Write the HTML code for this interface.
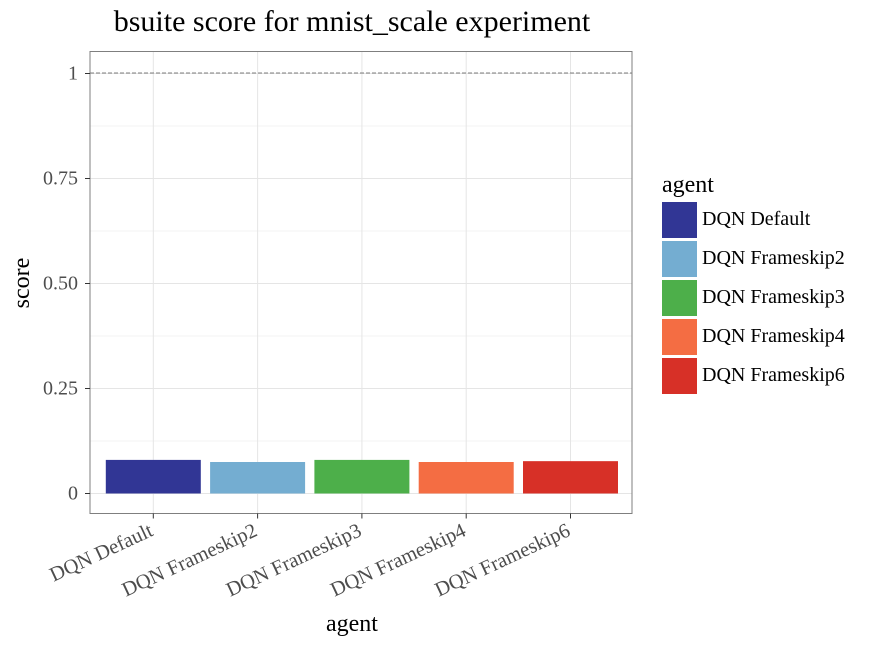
<!DOCTYPE html>
<html><head><meta charset="utf-8"><style>
body{margin:0;background:#fff;font-family:"Liberation Serif",serif;}
</style></head><body>
<svg width="873" height="646" id="chart" xmlns="http://www.w3.org/2000/svg" font-family="Liberation Serif, serif">
<text x="352" y="31" font-size="30" text-anchor="middle" fill="#000">bsuite score for mnist_scale experiment</text>
<rect x="90" y="51.5" width="542" height="462" fill="#fff" stroke="#7f7f7f" stroke-width="1"/>
<g id="grid"></g>
<g id="bars"></g>
<line x1="90" x2="632" y1="73" y2="73" stroke="#555" stroke-dasharray="4,2" stroke-width="0.8"/>
<rect x="90" y="51.5" width="542" height="462" fill="none" stroke="#7f7f7f" stroke-width="1"/>
<g id="axes"></g>
<text x="352" y="631" font-size="24" text-anchor="middle">agent</text>
<text transform="translate(29,283) rotate(-90)" font-size="24" text-anchor="middle">score</text>
<text x="662" y="192" font-size="24">agent</text>
<g id="legend"></g>
</svg>
<script>
const categories=["DQN Default","DQN Frameskip2","DQN Frameskip3","DQN Frameskip4","DQN Frameskip6"];
const scores=[0.080,0.075,0.080,0.075,0.077];
const colors=["#313695","#74add1","#4daf4a","#f46d43","#d73027"];
const yTicks=[0,0.25,0.5,0.75,1];
const yTickLabels=["0","0.25","0.50","0.75","1"];
const NS="http://www.w3.org/2000/svg";
const y=v=>493.5-420*v;
const step=104.3, x=i=>153.3+i*step, bw=95;
function mk(t,a,p){const e=document.createElementNS(NS,t);for(const k in a)e.setAttribute(k,a[k]);p.appendChild(e);return e;}
const grid=document.getElementById('grid'),bars=document.getElementById('bars'),axes=document.getElementById('axes'),leg=document.getElementById('legend');
for(let i=0;i<yTicks.length;i++){
 const g=mk('line',{x1:90,x2:632,y1:y(yTicks[i]),y2:y(yTicks[i]),stroke:'#e5e5e5','stroke-width':1},grid);
 
 
 if(i<yTicks.length-1){const m=mk('line',{x1:90,x2:632,y1:y(yTicks[i]+0.125),y2:y(yTicks[i]+0.125),stroke:'#f3f3f3','stroke-width':1},grid);
 
 }
 const t=mk('line',{x1:85,x2:90,y1:y(yTicks[i]),y2:y(yTicks[i]),stroke:'#333'},axes);
 
 
 const l=mk('text',{x:78,y:y(yTicks[i])+6,'font-size':20,'text-anchor':'end',fill:'#4d4d4d'},axes);
 l.textContent=yTickLabels[i];
 
 
}
categories.forEach((c,i)=>{
 const g=mk('line',{x1:x(i),x2:x(i),y1:51.5,y2:513.5,stroke:'#e5e5e5'},grid);
 
 
 const b=mk('rect',{x:x(i)-bw/2,y:y(scores[i]),width:bw,height:y(0)-y(scores[i]),fill:colors[i]},bars);
 
 
 const t=mk('line',{x1:x(i),x2:x(i),y1:513.5,y2:518.5,stroke:'#333'},axes);
 
 
 const l=mk('text',{x:x(i)+1,y:535,'font-size':20.5,'text-anchor':'end',fill:'#4d4d4d',transform:`rotate(-25 ${x(i)+1} 535)`},axes);
 l.textContent=c;
 
 
 const k=mk('rect',{x:662,y:202+i*39,width:35,height:36,fill:colors[i]},leg);
 
 
 const lt=mk('text',{x:702,y:225+i*39,'font-size':20,fill:'#000'},leg);
 lt.textContent=c;
 
 
});
</script>
</body></html>
